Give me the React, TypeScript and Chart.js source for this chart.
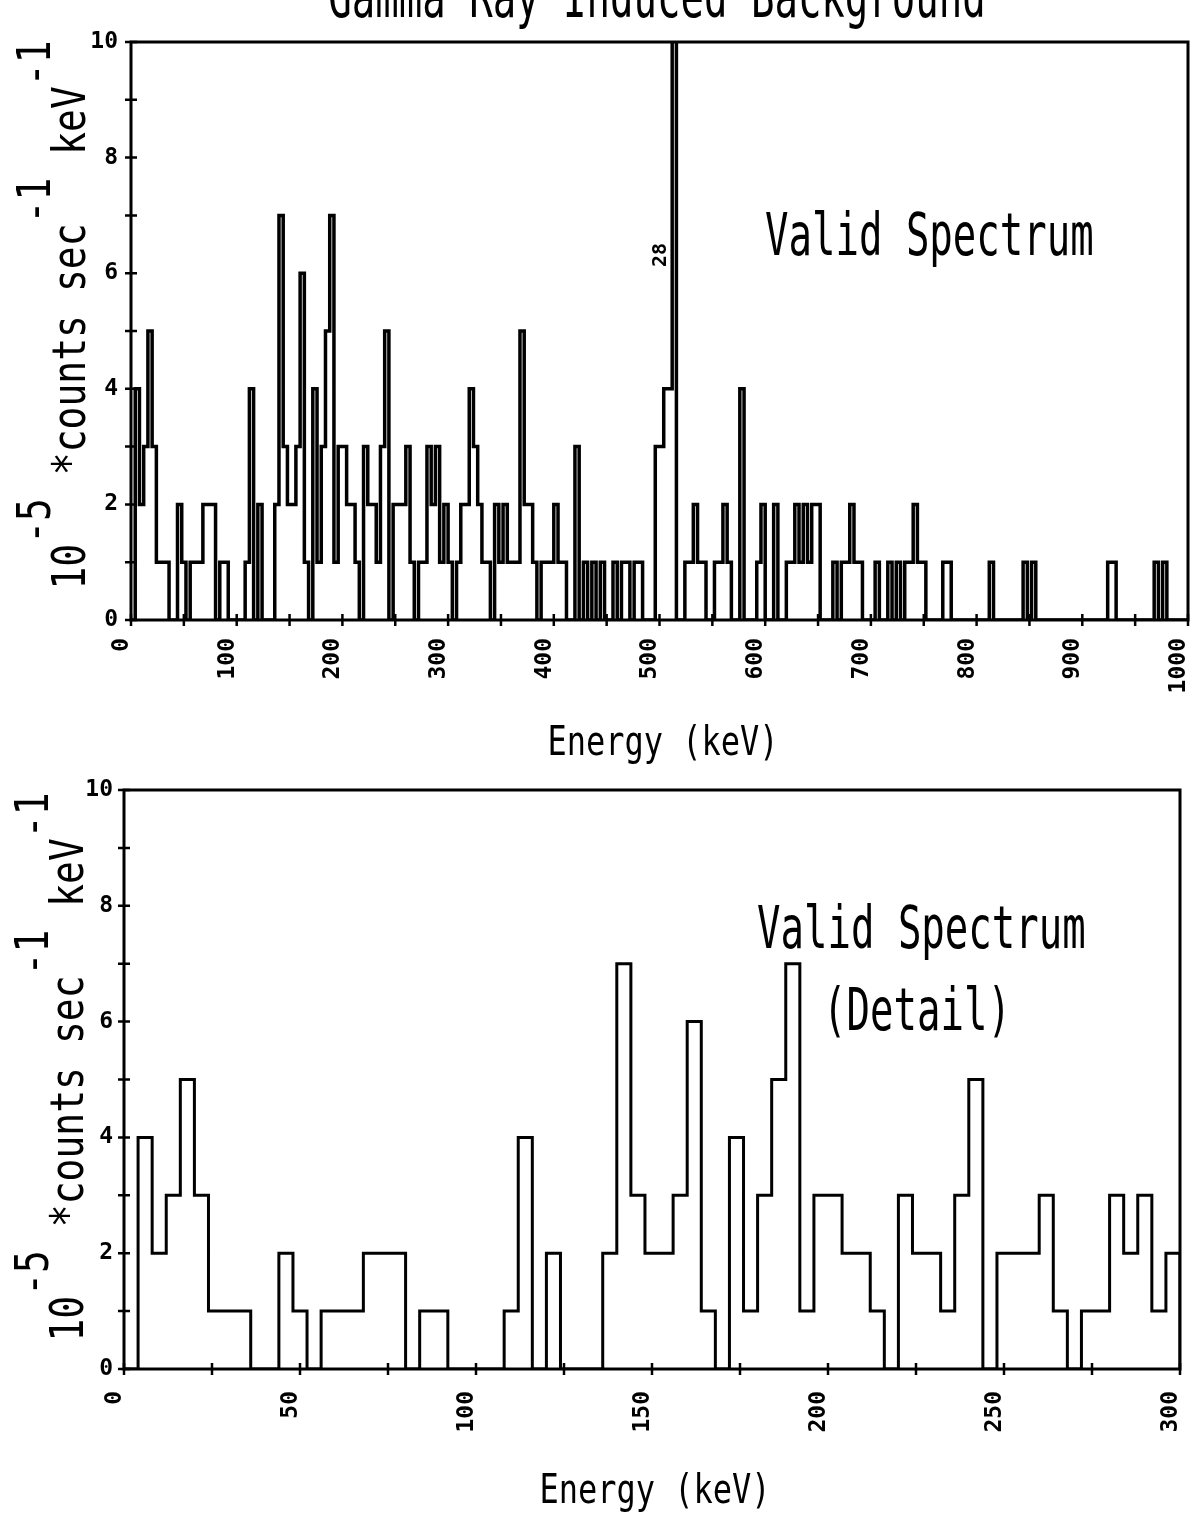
import React, { useEffect, useRef } from "react";
import { Chart, registerables } from "chart.js";

Chart.register(...registerables);

// ---------- data ----------
const BIN_WIDTH_KEV = 4;

// 0 - 300 keV, 4 keV bins (same bins appear in both panels)
const detailCounts = [
  0, 4, 2, 3, 5, 3, 1, 1, 1, 0,
  0, 2, 1, 0, 1, 1, 1, 2, 2, 2,
  0, 1, 1, 0, 0, 0, 0, 1, 4, 0,
  2, 0, 0, 0, 2, 7, 3, 2, 2, 3,
  6, 1, 0, 4, 1, 3, 5, 7, 1, 3,
  3, 2, 2, 1, 0, 3, 2, 2, 1, 3,
  5, 0, 2, 2, 2, 3, 1, 0, 1, 1,
  3, 2, 3, 1, 2,
];

// 300 - 1000 keV, 4 keV bins
const highEnergyCounts = [
  1, 0, 1, 2, 2,
  4, 3, 2, 1, 1, 0, 2, 1, 2, 1,
  1, 1, 5, 2, 2, 1, 0, 1, 1, 1,
  2, 1, 1, 0, 0, 3, 0, 1, 0, 1,
  0, 1, 0, 0, 1, 0, 1, 1, 0, 1,
  1, 0, 0, 0, 3, 3, 4, 4, 28, 0,
  0, 1, 1, 2, 1, 1, 0, 0, 1, 1,
  2, 1, 0, 0, 4, 0, 0, 0, 1, 2,
  0, 0, 2, 0, 0, 1, 1, 2, 1, 2,
  1, 2, 2, 0, 0, 0, 1, 0, 1, 1,
  2, 1, 1, 0, 0, 0, 1, 0, 0, 1,
  0, 1, 0, 1, 1, 2, 1, 1, 0, 0,
  0, 0, 1, 1, 0, 0, 0, 0, 0, 0,
  0, 0, 0, 1, 0, 0, 0, 0, 0, 0,
  0, 1, 0, 1, 0, 0, 0, 0, 0, 0,
  0, 0, 0, 0, 0, 0, 0, 0, 0, 0,
  0, 1, 1, 0, 0, 0, 0, 0, 0, 0,
  0, 0, 1, 0, 1, 0, 0, 0, 0, 0,
];

const fullCounts = [...detailCounts, ...highEnergyCounts];

const TITLE = "Gamma Ray Induced Background";
const X_TITLE = "Energy (keV)";
const PANEL_TEXT = "Valid Spectrum";
const DETAIL_TEXT = "(Detail)";
const OFFSCALE_LABEL = "28";
const Y_TITLE_PARTS = [
  { text: "10", sup: false },
  { text: "-5", sup: true },
  { text: " *counts sec", sup: false },
  { text: "-1", sup: true },
  { text: " keV", sup: false },
  { text: "-1", sup: true },
];

// ---------- helpers ----------
const MONO = '"DejaVu Sans Mono", monospace';

function histogramPoints(counts: number[]) {
  const pts: { x: number; y: number }[] = [{ x: 0, y: 0 }];
  counts.forEach((v, i) => pts.push({ x: i * BIN_WIDTH_KEV, y: v }));
  pts.push({ x: counts.length * BIN_WIDTH_KEV, y: 0 });
  return pts;
}

type TextItem = {
  text: string;
  x: number;
  y: number;
  size: number;
  sy?: number;
  align?: CanvasTextAlign;
  baseline?: CanvasTextBaseline;
  rot?: number;
  bold?: boolean;
};

function drawText(ctx: CanvasRenderingContext2D, t: TextItem) {
  ctx.save();
  ctx.translate(t.x, t.y);
  if (t.rot) ctx.rotate(t.rot);
  ctx.scale(1, t.sy ?? 1);
  ctx.font = `${t.bold ? "bold " : ""}${t.size}px ${MONO}`;
  ctx.textAlign = t.align ?? "left";
  ctx.textBaseline = t.baseline ?? "alphabetic";
  ctx.fillStyle = "#000";
  ctx.fillText(t.text, 0, 0);
  ctx.restore();
}

function drawYTitle(
  ctx: CanvasRenderingContext2D,
  x: number,
  cy: number,
  size: number,
  sy: number,
  raise: number
) {
  ctx.save();
  ctx.font = `${size}px ${MONO}`;
  ctx.fillStyle = "#000";
  ctx.textAlign = "left";
  ctx.textBaseline = "alphabetic";
  const widths = Y_TITLE_PARTS.map((p) => ctx.measureText(p.text).width);
  const total = widths.reduce((a, b) => a + b, 0);
  ctx.translate(x, cy);
  ctx.rotate(-Math.PI / 2);
  let pos = -total / 2;
  Y_TITLE_PARTS.forEach((p, i) => {
    ctx.save();
    ctx.translate(pos, p.sup ? -raise : 0);
    ctx.scale(1, sy);
    ctx.fillText(p.text, 0, 0);
    ctx.restore();
    pos += widths[i];
  });
  ctx.restore();
}

type PanelProps = {
  counts: number[];
  maxKeV: number;
  labelStep: number;
  minorStep: number;
  width: number;
  height: number;
  top: number;
  area: { left: number; right: number; top: number; bottom: number };
  texts: TextItem[];
  yTitle: { x: number; cy: number };
  xLabelPadding: number;
  yLabelPadding: number;
  lineWidth: number;
};

function SpectrumPanel(props: PanelProps) {
  const ref = useRef<HTMLCanvasElement>(null);
  useEffect(() => {
    const {
      counts, maxKeV, labelStep, minorStep, width, height, area, texts, yTitle,
      xLabelPadding, yLabelPadding, lineWidth,
    } = props;
    const tickFont = { family: MONO, size: 23, weight: "bold" as const };

    const framePlugin = {
      id: "frame",
      afterDraw(chart: any) {
        const { ctx, chartArea: a, scales } = chart;
        ctx.save();
        ctx.strokeStyle = "#000";
        ctx.lineWidth = 3;
        ctx.strokeRect(a.left, a.top, a.right - a.left, a.bottom - a.top);
        ctx.lineWidth = 2.5;
        ctx.beginPath();
        for (let v = 0; v <= 10; v++) {
          const y = scales.y.getPixelForValue(v);
          ctx.moveTo(a.left - 6, y);
          ctx.lineTo(a.left + 6, y);
        }
        for (let e = 0; e <= maxKeV; e += minorStep) {
          const x = scales.x.getPixelForValue(e);
          ctx.moveTo(x, a.bottom - 6);
          ctx.lineTo(x, a.bottom + 6);
        }
        ctx.stroke();
        ctx.restore();
        texts.forEach((t) => drawText(ctx, t));
        drawYTitle(ctx, yTitle.x, yTitle.cy, 38, 1.2, 35);
      },
    };

    const chart = new Chart(ref.current as HTMLCanvasElement, {
      type: "line",
      data: {
        datasets: [
          {
            data: histogramPoints(counts),
            stepped: "before",
            borderColor: "#000",
            borderWidth: lineWidth,
            borderJoinStyle: "miter",
            borderCapStyle: "butt",
            pointRadius: 0,
            fill: false,
          } as any,
        ],
      },
      options: {
        animation: false,
        responsive: false,
        devicePixelRatio: 1,
        events: [],
        layout: {
          padding: { left: 0, top: area.top, right: width - area.right, bottom: 0 },
        },
        plugins: {
          legend: { display: false },
          tooltip: { enabled: false },
          title: { display: false },
        },
        scales: {
          x: {
            type: "linear",
            min: 0,
            max: maxKeV,
            afterFit: (s: any) => {
              s.height = height - area.bottom;
              s.paddingLeft = 0;
              s.paddingRight = 0;
            },
            grid: { display: false, drawTicks: false },
            border: { display: false },
            ticks: {
              stepSize: labelStep,
              autoSkip: false,
              minRotation: 90,
              maxRotation: 90,
              padding: xLabelPadding,
              labelOffset: -9,
              font: tickFont,
              color: "#000",
              callback: (v: any) => String(v),
            },
          },
          y: {
            type: "linear",
            min: 0,
            max: 10,
            afterFit: (s: any) => {
              s.width = area.left;
              s.paddingTop = 0;
              s.paddingBottom = 0;
            },
            grid: { display: false, drawTicks: false },
            border: { display: false },
            ticks: {
              stepSize: 1,
              autoSkip: false,
              padding: yLabelPadding,
              font: tickFont,
              color: "#000",
              callback: (v: any) => (Number(v) % 2 === 0 ? String(v) : ""),
            },
          },
        },
      } as any,
      plugins: [framePlugin as any],
    });
    return () => chart.destroy();
  }, []);
  return (
    <canvas
      ref={ref}
      width={props.width}
      height={props.height}
      style={{ position: "absolute", left: 0, top: props.top, display: "block" }}
    />
  );
}

export default function App() {
  const W = 1191;
  return (
    <div
      style={{
        position: "absolute",
        left: 0,
        top: 0,
        width: W,
        height: 1521,
        background: "#fff",
        overflow: "hidden",
      }}
    >
      <SpectrumPanel
        counts={fullCounts}
        maxKeV={1000}
        labelStep={100}
        minorStep={50}
        width={W}
        height={770}
        top={0}
        area={{ left: 131, right: 1188, top: 42, bottom: 620 }}
        xLabelPadding={18}
        yLabelPadding={13}
        lineWidth={3.5}
        yTitle={{ x: 85, cy: 315 }}
        texts={[
          { text: TITLE, x: 657, y: 17, size: 39, sy: 1.5, align: "center" },
          { text: PANEL_TEXT, x: 765, y: 255, size: 39, sy: 1.5 },
          { text: X_TITLE, x: 663, y: 755, size: 32, sy: 1.3, align: "center" },
          {
            text: OFFSCALE_LABEL, x: 661, y: 255, size: 20, bold: true,
            rot: -Math.PI / 2, align: "center", baseline: "middle",
          },
        ]}
      />
      <SpectrumPanel
        counts={detailCounts}
        maxKeV={300}
        labelStep={50}
        minorStep={25}
        width={W}
        height={751}
        top={770}
        area={{ left: 124, right: 1180, top: 20, bottom: 599 }}
        xLabelPadding={22}
        yLabelPadding={11}
        lineWidth={3}
        yTitle={{ x: 83, cy: 297 }}
        texts={[
          { text: PANEL_TEXT, x: 757, y: 178, size: 39, sy: 1.5 },
          { text: DETAIL_TEXT, x: 917, y: 260, size: 39, sy: 1.5, align: "center" },
          { text: X_TITLE, x: 655, y: 733, size: 32, sy: 1.3, align: "center" },
        ]}
      />
    </div>
  );
}
